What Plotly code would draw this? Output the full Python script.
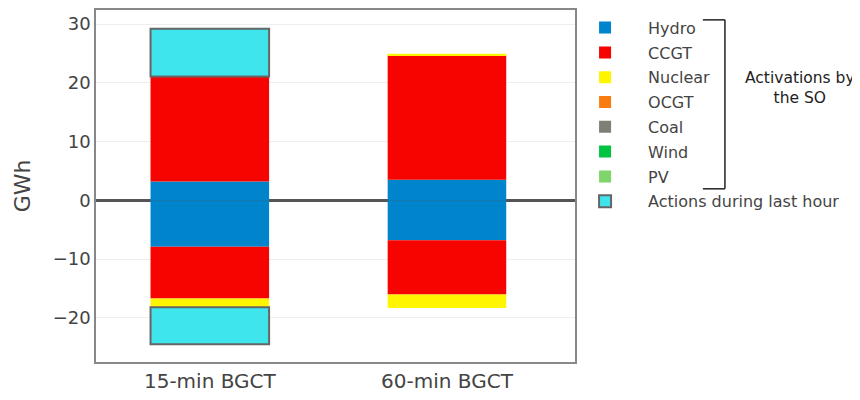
import plotly.graph_objects as go

categories = ["15-min BGCT", "60-min BGCT"]
techs = ["Hydro", "CCGT", "Nuclear", "OCGT", "Coal", "Wind", "PV"]
colors = ["#0084CC", "#F50400", "#FFF500", "#F97C10", "#7F7F76", "#00C43F", "#7FD46A"]
pos_vals = {
    "Hydro": [3.2, 3.5],
    "CCGT": [17.9, 21.2],
    "Nuclear": [None, 0.25],
    "OCGT": [None, None],
    "Coal": [None, None],
    "Wind": [None, None],
    "PV": [None, None],
}
neg_vals = {
    "Hydro": [-7.9, -6.8],
    "CCGT": [-8.8, -9.2],
    "Nuclear": [-1.5, -2.3],
    "OCGT": [None, None],
    "Coal": [None, None],
    "Wind": [None, None],
    "PV": [None, None],
}
actions_pos = [8.1, None]
actions_neg = [-6.3, None]

FONT = "DejaVu Sans"
fig = go.Figure()
for t, c in zip(techs, colors):
    fig.add_trace(go.Bar(x=categories, y=pos_vals[t], name=t, marker=dict(color=c, line=dict(width=0)),
                         legendgroup=t, showlegend=True))
    fig.add_trace(go.Bar(x=categories, y=neg_vals[t], name=t, marker=dict(color=c, line=dict(width=0)),
                         legendgroup=t, showlegend=False))
fig.add_trace(go.Bar(x=categories, y=actions_pos, name="Actions during last hour",
                     marker=dict(color="#3EE5EC", line=dict(color="#666666", width=2)),
                     legendgroup="act", showlegend=True))
fig.add_trace(go.Bar(x=categories, y=actions_neg, name="Actions during last hour",
                     marker=dict(color="#3EE5EC", line=dict(color="#666666", width=2)),
                     legendgroup="act", showlegend=False))

fig.update_layout(
    width=852, height=392,
    barmode="relative", bargap=0.5,
    paper_bgcolor="white", plot_bgcolor="white",
    margin=dict(l=88, r=285, t=0, b=38),
    font=dict(family=FONT, color="#444444"),
    legend=dict(x=0.973, y=0.998, xanchor="left", yanchor="top", bgcolor="rgba(0,0,0,0)",
                font=dict(size=16, family=FONT, color="#444444"),
                tracegroupgap=1, traceorder="grouped", itemwidth=76),
    xaxis=dict(range=[-0.48, 1.54], showline=True, mirror=True, linecolor="#888888", linewidth=1.5,
               tickfont=dict(size=20), ticks="", showgrid=False),
    yaxis=dict(range=[-27.5, 32.4], showline=True, mirror=True, linecolor="#888888", linewidth=1.5,
               tickvals=[-20, -10, 0, 10, 20, 30], tickfont=dict(size=18),
               gridcolor="#EEEEEE", zeroline=True, zerolinecolor="#555555", zerolinewidth=3,
               title=dict(text="GWh", font=dict(size=22), standoff=16)),
    shapes=[
        dict(type="line", xref="paper", yref="paper", x0=1.267, x1=1.313, y0=0.972, y1=0.972,
             line=dict(color="#222222", width=1.5)),
        dict(type="line", xref="paper", yref="paper", x0=1.313, x1=1.313, y0=0.972, y1=0.492,
             line=dict(color="#222222", width=1.5)),
        dict(type="line", xref="paper", yref="paper", x0=1.267, x1=1.313, y0=0.492, y1=0.492,
             line=dict(color="#222222", width=1.5)),
    ],
    annotations=[
        dict(text="Activations by<br>the SO", xref="paper", yref="paper", x=1.470, y=0.777,
             xanchor="center", yanchor="middle", showarrow=False,
             font=dict(size=15.5, color="#222222", family=FONT)),
    ],
)
fig.write_html("out.html")
